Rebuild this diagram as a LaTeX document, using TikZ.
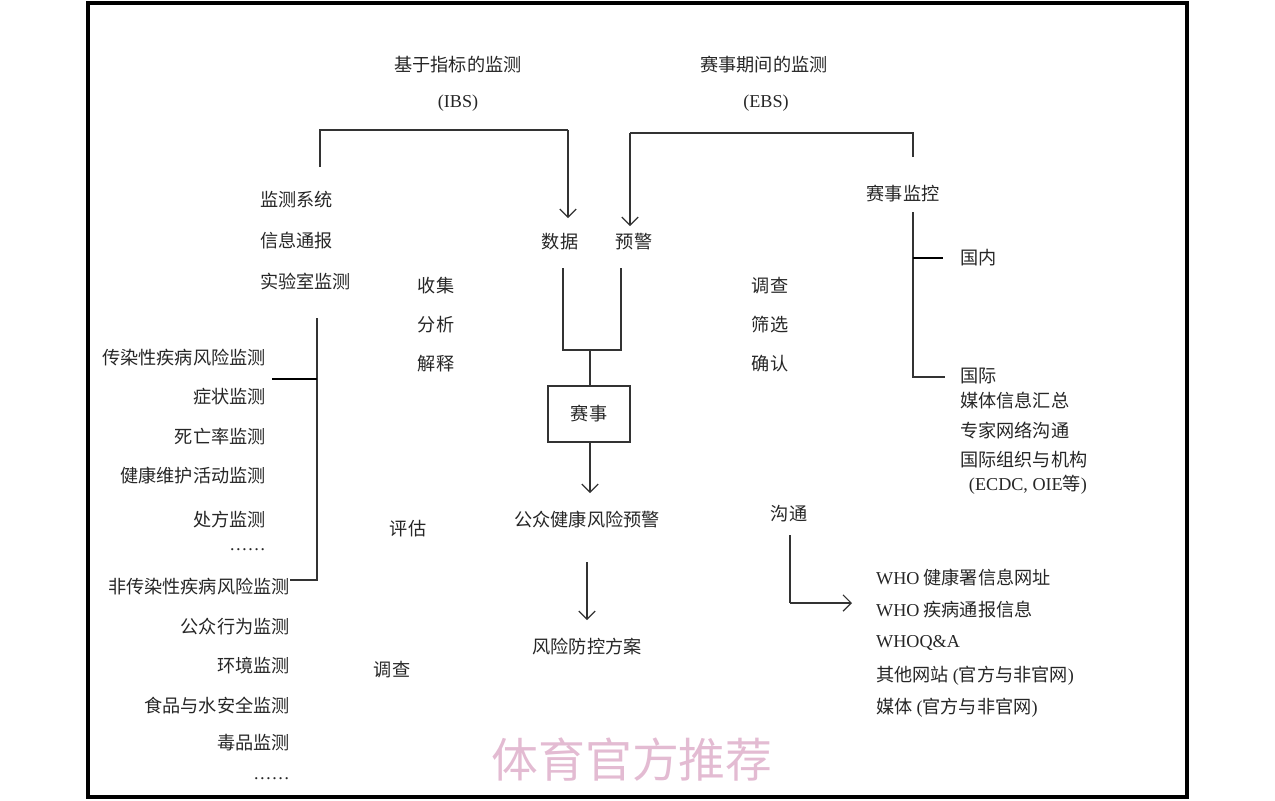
\documentclass[tikz,border=0pt]{standalone}
\usepackage{fontspec}
\setmainfont{Liberation Serif}
\newfontfamily\cjk{Noto Sans CJK SC}
\newcommand{\lt}[1]{{\rmfamily #1}}
\usetikzlibrary{arrows.meta}
\begin{document}
\begin{tikzpicture}[x=0.03cm,y=-0.03cm,
 t/.style={inner sep=0pt,font=\cjk\fontsize{15.5}{18}\selectfont,text=black!85},
 ln/.style={line width=1pt,black!80},
 tk/.style={line width=2.2pt,black},
 ar/.style={ln,-{Straight Barb[length=7pt,width=14pt]}}]
\useasboundingbox (0,0) rectangle (1275,800);
\draw[line width=3pt] (88,3) rectangle (1187,797);
\node[t] (ibs) at (458,65) {基于指标的监测};
\node[t] (ibs2) at (458,103) {\lt{(IBS)}};
\node[t] (ebs) at (764,65) {赛事期间的监测};
\node[t] (ebs2) at (766,103) {\lt{(EBS)}};
\coordinate (a1) at (320,167); \coordinate (a2) at (320,130); \coordinate (a3) at (568,130);
\coordinate (a4) at (568,218);
\draw[ln] (a1)--(a2)--(a3); \draw[ar] (a3)--(a4);
\coordinate (b1) at (913,157); \coordinate (b2) at (913,133); \coordinate (b3) at (630,133); \coordinate (b4) at (630,226);
\draw[ln] (b1)--(b2)--(b3); \draw[ar] (b3)--(b4);
\node[t,anchor=west] (s1) at (260,200) {监测系统};
\node[t,anchor=west] (s2) at (260,241) {信息通报};
\node[t,anchor=west] (s3) at (260,281) {实验室监测};
\node[t] (sj) at (560,242) {数据};
\node[t] (yj) at (634,242) {预警};
\node[t] (jk) at (903,194) {赛事监控};
\node[t,anchor=west] (gn) at (960,258) {国内};
\coordinate (c1) at (913,212); \coordinate (c2) at (913,377); \coordinate (c3) at (913,258);
\coordinate (c4) at (943,258); \coordinate (c5) at (945,377);
\draw[ln] (c1)--(c2)--(c5); \draw[tk] (c3)--(c4);
\node[t,anchor=west] (gj) at (960,376) {国际};
\node[t,anchor=west] (g2) at (960,401) {媒体信息汇总};
\node[t,anchor=west] (g3) at (960,430) {专家网络沟通};
\node[t,anchor=west] (g4) at (960,460) {国际组织与机构};
\node[t] (g5) at (1028,485) {\lt{(ECDC, OIE}等\lt{)}};
\node[t] (m1) at (436,286) {收集};
\node[t] (m2) at (436,325) {分析};
\node[t] (m3) at (436,364) {解释};
\node[t] (n1) at (770,286) {调查};
\node[t] (n2) at (770,325) {筛选};
\node[t] (n3) at (770,364) {确认};
\coordinate (f1) at (563,268); \coordinate (f2) at (563,350); \coordinate (f3) at (621,350); \coordinate (f4) at (621,268);
\coordinate (f5) at (590,350);
\draw[ln] (f1)--(f2)--(f3)--(f4);
\node[t,draw=black!80,line width=1pt,minimum width=82*0.03cm,minimum height=56*0.03cm] (ss) at (589,414) {赛事};
\draw[ln] (f5)--(ss.north -| f5);
\coordinate (g6) at (590,493);
\draw[ar] (ss.south -| g6)--(g6);
\node[t] (yjw) at (587,520) {公众健康风险预警};
\coordinate (h1) at (587,562); \coordinate (h2) at (587,620);
\draw[ar] (h1)--(h2);
\node[t] (fa) at (587,647) {风险防控方案};
\coordinate (l1) at (317,318); \coordinate (l2) at (317,580); \coordinate (l3) at (272,379); \coordinate (l4) at (317,379); \coordinate (l5) at (290,580);
\draw[ln] (l1)--(l2)--(l5); \draw[tk] (l3)--(l4);
\foreach \s/\y [count=\i] in {传染性疾病风险监测/358,症状监测/397,死亡率监测/437,健康维护活动监测/476,处方监测/520,\lt{……}/550}
  \node[t,anchor=east] (p\i) at (266,\y) {\s};
\foreach \s/\y [count=\i] in {非传染性疾病风险监测/587,公众行为监测/627,环境监测/666,食品与水安全监测/705,毒品监测/743,\lt{……}/779}
  \node[t,anchor=east] (q\i) at (290,\y) {\s};
\node[t] (pg) at (408,529) {评估};
\node[t] (dc) at (392,670) {调查};
\node[t] (gt) at (789,514) {沟通};
\coordinate (k1) at (790,535); \coordinate (k2) at (790,603); \coordinate (k3) at (852,603);
\draw[ln] (k1)--(k2); \draw[ar] (k2)--(k3);
\node[t,anchor=west] (w1) at (876,578) {\lt{WHO} 健康署信息网址};
\node[t,anchor=west] (w2) at (876,610) {\lt{WHO} 疾病通报信息};
\node[t,anchor=west] (w3) at (876,643) {\lt{WHOQ\&A}};
\node[t,anchor=west] (w4) at (876,676) {其他网站 \lt{(}官方与非官网\lt{)}};
\node[t,anchor=west] (w5) at (876,708) {媒体 \lt{(}官方与非官网\lt{)}};
\node[t,text=magenta!25!violet!30,font=\cjk\fontsize{40}{44}\selectfont] (wm) at (632,760) {体育官方推荐};
\end{tikzpicture}
\end{document}
